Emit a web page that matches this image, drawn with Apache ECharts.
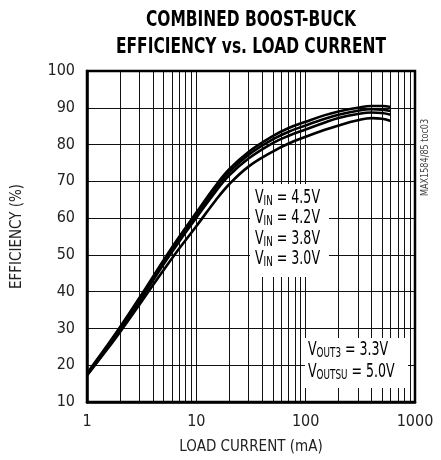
<!DOCTYPE html>
<html><head><meta charset="utf-8">
<script src="https://cdn.jsdelivr.net/npm/echarts@6/dist/echarts.min.js"></script>
<style>html,body{margin:0;padding:0;background:#fff}#c{width:441px;height:460px}</style>
</head><body><div id="c"></div>
<script>
const loadCurrent = [1, 1.5, 2, 3, 5, 7, 10, 15, 20, 30, 50, 70, 100, 150, 200, 300, 400, 500, 600];
const vin45 = [17.8, 25, 30.3, 38.2, 48.5, 55, 61.5, 68.8, 73.3, 78, 82.3, 84.5, 86.2, 88, 89, 90, 90.5, 90.5, 90.2];
const vin42 = [17.6, 24.7, 30, 37.8, 48, 54.4, 60.9, 68.1, 72.5, 77.2, 81.4, 83.5, 85.2, 87, 88.1, 89.2, 89.6, 89.5, 89.1];
const vin38 = [17.4, 24.4, 29.6, 37.3, 47.4, 53.7, 60.1, 67.2, 71.6, 76.2, 80.4, 82.4, 84.1, 86, 87.2, 88.3, 88.7, 88.6, 88.1];
const vin30 = [17.2, 24, 29, 36.4, 45.8, 51.8, 57.8, 64.8, 69.2, 74, 78.1, 80.3, 82.1, 84, 85.2, 86.6, 87.2, 87, 86.4];
const xTicks = [1, 10, 100, 1000];
const minorX = [2,3,4,5,6,7,8,9,20,30,40,50,60,70,80,90,200,300,400,500,600,700,800,900];
const vinLabels = ['4.5V', '4.2V', '3.8V', '3.0V'];

const FONT = '"DejaVu Sans Condensed", "Liberation Sans", sans-serif';
const chart = echarts.init(document.getElementById('c'), null, {renderer: 'canvas'});
const pair = arr => loadCurrent.map((x, i) => [x, arr[i]]);
const mkSeries = (name, arr) => ({
  name, type: 'line', data: pair(arr), smooth: 0.4, symbol: 'none',
  lineStyle: {color: '#000', width: 2.6}, z: 5
});
const series = [mkSeries('4.5', vin45), mkSeries('4.2', vin42), mkSeries('3.8', vin38), mkSeries('3.0', vin30)];
series.push({
  type: 'line', data: [], silent: true,
  markLine: {symbol: 'none', silent: true, label: {show: false}, animation: false,
    lineStyle: {color: '#111', width: 1, type: 'solid'},
    data: minorX.map(v => ({xAxis: v}))}
});

const rich = {
  v: {fontSize: 20, fontFamily: FONT, color: '#222'},
  s: {fontSize: 14, fontFamily: FONT, color: '#222', verticalAlign: 'bottom', padding: [7, 0, 0, 0]}
};
const SX = 0.7;
const g = [];
g.push({type: 'text', x: 251, y: 9, scaleX: 0.78, style: {text: 'COMBINED BOOST-BUCK', font: 'bold 22px ' + FONT, fill: '#000', textAlign: 'center'}});
g.push({type: 'text', x: 251, y: 36, scaleX: 0.78, style: {text: 'EFFICIENCY vs. LOAD CURRENT', font: 'bold 22px ' + FONT, fill: '#000', textAlign: 'center'}});
g.push({type: 'rect', shape: {x: 250, y: 184, width: 79, height: 93}, style: {fill: '#fff'}, z: 10});
vinLabels.forEach((t, i) => {
  g.push({type: 'text', x: 255, y: 187 + i * 20.5, scaleX: SX, z: 11,
    style: {text: '{v|V}{s|IN}{v| = ' + t + '}', rich}});
});
g.push({type: 'rect', shape: {x: 305, y: 338, width: 103, height: 50}, style: {fill: '#fff'}, z: 10});
g.push({type: 'text', x: 308, y: 339, scaleX: SX, z: 11, style: {text: '{v|V}{s|OUT3}{v| = 3.3V}', rich}});
g.push({type: 'text', x: 308, y: 361, scaleX: SX, z: 11, style: {text: '{v|V}{s|OUTSU}{v| = 5.0V}', rich}});
g.push({type: 'text', x: 420, y: 196, rotation: Math.PI / 2, scaleX: 0.9, z: 11,
  style: {text: 'MAX1584/85 toc03', font: '10px ' + FONT, fill: '#444', textAlign: 'left', textVerticalAlign: 'top'}});

chart.setOption({
  animation: false,
  grid: {left: 87, right: 26, top: 71, bottom: 58, show: true, borderColor: '#000', borderWidth: 2.5, backgroundColor: 'transparent', z: 20},
  xAxis: {
    type: 'log', logBase: 10, min: 1, max: 1000,
    name: 'LOAD CURRENT (mA)', nameLocation: 'middle', nameGap: 38,
    nameTextStyle: {fontFamily: FONT, fontSize: 15, color: '#222'},
    axisLine: {show: true, lineStyle: {color: '#000', width: 2.5}},
    axisTick: {show: false},
    axisLabel: {fontFamily: FONT, fontSize: 16, color: '#222', margin: 12,
      customValues: xTicks, formatter: v => String(Math.round(v))},
    splitLine: {show: true, lineStyle: {color: '#111', width: 1}}
  },
  yAxis: {
    type: 'value', min: 10, max: 100, interval: 10,
    name: 'EFFICIENCY (%)', nameLocation: 'middle', nameGap: 62,
    nameTextStyle: {fontFamily: FONT, fontSize: 15, color: '#222'},
    axisLine: {show: true, lineStyle: {color: '#000', width: 2.5}},
    axisTick: {show: false},
    axisLabel: {fontFamily: FONT, fontSize: 16, color: '#222', margin: 12},
    splitLine: {show: true, lineStyle: {color: '#111', width: 1}}
  },
  series,
  graphic: g
});
</script></body></html>
